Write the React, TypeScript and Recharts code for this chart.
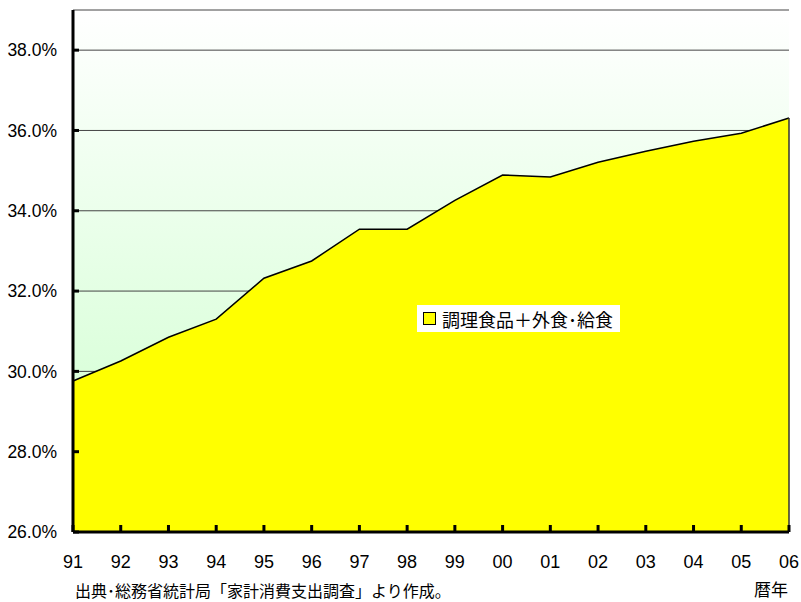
import { AreaChart, Area, XAxis, YAxis, CartesianGrid, Legend, ReferenceLine } from 'recharts'

const YEARS = ['91', '92', '93', '94', '95', '96', '97', '98', '99', '00', '01', '02', '03', '04', '05', '06']
const SHARE = [29.76, 30.26, 30.85, 31.3, 32.32, 32.75, 33.54, 33.54, 34.26, 34.89, 34.84, 35.21, 35.48, 35.73, 35.93, 36.31]
const Y_TICKS = [26, 28, 30, 32, 34, 36, 38]
const SERIES_NAME = '調理食品＋外食･給食'
const SOURCE_NOTE = '出典･総務省統計局「家計消費支出調査」より作成。'
const X_UNIT = '暦年'

const data = YEARS.map((y, i) => ({ year: y, value: SHARE[i] }))
const lastYear = YEARS[YEARS.length - 1]
const lastValue = SHARE[SHARE.length - 1]

const NUM_FONT = '"Liberation Sans", Arial, sans-serif'
const JP_FONT = '"Noto Sans CJK JP", sans-serif'

const X_MARGIN = 23
const Y_MARGIN = 16

function XTick(props: any) {
  const { x, y, payload } = props
  const axisY = y - X_MARGIN
  return (
    <g>
      <line x1={x} x2={x} y1={axisY} y2={axisY - 7} stroke="#000" strokeWidth={3} />
      <text x={x} y={y} dy="0.71em" textAnchor="middle" fontSize={18} fontFamily={NUM_FONT} fill="#000">
        {payload.value}
      </text>
    </g>
  )
}

function YTick(props: any) {
  const { x, y, payload } = props
  const axisX = x + Y_MARGIN
  return (
    <g>
      <line x1={axisX} x2={axisX + 6} y1={y} y2={y} stroke="#000" strokeWidth={3} />
      <text x={x} y={y} dy="0.36em" textAnchor="end" fontSize={17.5} fontFamily={NUM_FONT} fill="#000">
        {payload.value.toFixed(1)}%
      </text>
    </g>
  )
}

function LegendBox() {
  return (
    <div
      style={{
        background: '#fff',
        height: 27,
        padding: '0 7px 0 6px',
        display: 'flex',
        alignItems: 'center',
        fontFamily: JP_FONT,
        fontSize: 18,
        color: '#000',
        whiteSpace: 'nowrap',
      }}
    >
      <span
        style={{
          display: 'inline-block',
          width: 11,
          height: 11,
          background: '#ffff00',
          border: '1.5px solid #000',
          marginRight: 6,
        }}
      />
      {SERIES_NAME}
    </div>
  )
}

export default function App() {
  return (
    <div style={{ position: 'fixed', left: 0, top: 0, width: 801, height: 602, background: '#fff', overflow: 'hidden' }}>
      <AreaChart width={801} height={602} data={data} margin={{ top: 10, right: 12, bottom: 0, left: 0 }}>
        <defs>
          <linearGradient id="plotBg" x1="0" y1="0" x2="0" y2="1">
            <stop offset="0%" stopColor="#ffffff" />
            <stop offset="100%" stopColor="#ccffcc" />
          </linearGradient>
        </defs>
        <CartesianGrid vertical={false} stroke="#444" strokeWidth={1} fill="url(#plotBg)" />
        <XAxis
          dataKey="year"
          height={70}
          tickSize={0}
          tickMargin={X_MARGIN}
          tick={<XTick />}
          axisLine={{ stroke: '#000', strokeWidth: 3 }}
          tickLine={false}
          interval={0}
        />
        <YAxis
          width={73}
          domain={[26, 39]}
          ticks={Y_TICKS}
          tickSize={0}
          tickMargin={Y_MARGIN}
          tick={<YTick />}
          axisLine={{ stroke: '#000', strokeWidth: 3 }}
          tickLine={false}
        />
        <Legend
          layout="horizontal"
          verticalAlign="middle"
          align="center"
          content={() => <LegendBox />}
          wrapperStyle={{ left: 417, top: 305, width: 'auto' }}
        />
        <Area
          type="linear"
          dataKey="value"
          name={SERIES_NAME}
          stroke="#000"
          strokeWidth={1.5}
          fill="#ffff00"
          fillOpacity={1}
          isAnimationActive={false}
        />
        <ReferenceLine
          segment={[
            { x: lastYear, y: Y_TICKS[0] },
            { x: lastYear, y: lastValue },
          ]}
          stroke="#333"
          strokeWidth={1.5}
        />
      </AreaChart>
      <div style={{ position: 'absolute', left: 75, top: 581, fontFamily: JP_FONT, fontSize: 16, lineHeight: '18px', color: '#000', whiteSpace: 'nowrap' }}>
        {SOURCE_NOTE}
      </div>
      <div style={{ position: 'absolute', left: 754, top: 576, fontFamily: JP_FONT, fontSize: 17, color: '#000' }}>
        {X_UNIT}
      </div>
    </div>
  )
}
